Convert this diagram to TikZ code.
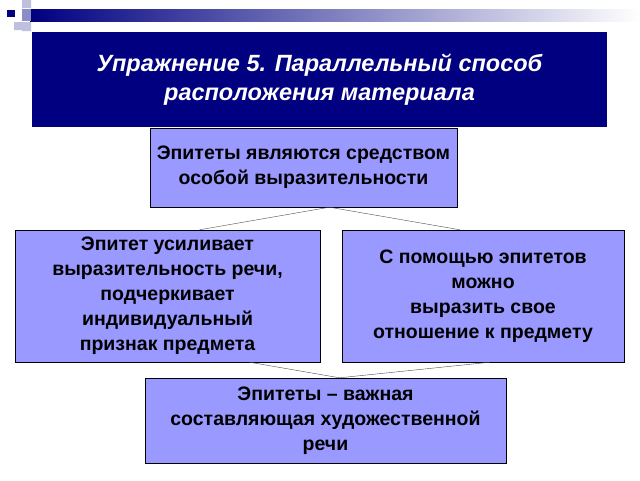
\documentclass[tikz,border=0pt]{standalone}
\usepackage{fontspec}
\setmainfont{Liberation Sans}
\definecolor{navy}{HTML}{000080}
\definecolor{lilac}{HTML}{9999FF}
\begin{document}
\begin{tikzpicture}[x=1pt,y=-1pt,font=\bfseries\fontsize{19.5}{25}\selectfont,
  box/.style={draw=black,fill=lilac,align=center,inner sep=0pt},
  link/.style={draw=black!70,thin}]
 \useasboundingbox (0,0) rectangle (640,480);
 % corner decoration
 \shade[left color=navy,right color=white] (30,9) rectangle (640,21);
 \fill[navy!25] (22,0) rectangle (31,8) (22,22) rectangle (31,31) (14,22) rectangle (22,30);
 \fill[navy!45] (22,9) rectangle (31,21);
 \fill[navy] (7,10) rectangle (15,17);

 \node[fill=navy,minimum width=575,minimum height=95,text=white,align=center,
       font=\bfseries\itshape\fontsize{23.5}{29}\selectfont] (title) at (319.5,79.5)
   {Упражнение 5. Параллельный способ\\расположения материала};
 \node[box,minimum width=307,minimum height=79] (top) at (303.5,167.5)
   {Эпитеты являются средством\\ особой выразительности};
 \node[box,minimum width=305,minimum height=132] (left) at (167.5,296)
   {Эпитет усиливает\\выразительность речи,\\подчеркивает\\индивидуальный\\ признак предмета};
 \node[box,minimum width=282,minimum height=132] (right) at (483,296)
   {С помощью эпитетов\\ можно\\выразить свое\\ отношение к предмету};
 \node[box,minimum width=361,minimum height=85] (bottom) at (325.5,420.5)
   {Эпитеты –  важная\\составляющая художественной\\речи};

 \draw[link] ([xshift=26]top.south) -- ([xshift=32]left.north)
             ([xshift=26]top.south) -- ([xshift=-23]right.north);
 \draw[link] ([xshift=82]left.south) -- ([xshift=14]bottom.north)
             ([xshift=7]right.south) -- ([xshift=14]bottom.north);
\end{tikzpicture}
\end{document}
